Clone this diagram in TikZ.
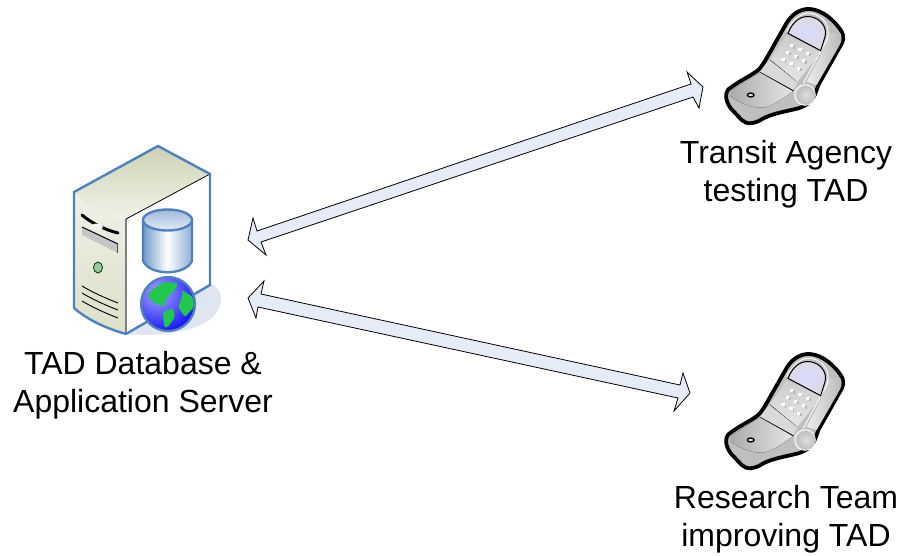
\documentclass[tikz,border=0pt]{standalone}
\usepackage{fontspec}
\setmainfont{Liberation Sans}
\definecolor{srvblue}{HTML}{4F81BD}
\definecolor{arrowfill}{HTML}{E6ECF7}
\definecolor{topa}{HTML}{CDD2B4}
\definecolor{topb}{HTML}{F1F2E8}
\definecolor{fronta}{HTML}{F0F1E6}
\definecolor{frontb}{HTML}{DCDFC8}
\definecolor{shadowc}{HTML}{DFE6F2}
\definecolor{land}{HTML}{22C84E}
\tikzset{
 label text/.style={font=\fontsize{32}{38}\selectfont,align=center,text=black,inner sep=0pt},
 block arrow/.style={draw=black,line width=0.8pt,fill=arrowfill,line join=miter},
 srv line/.style={draw=srvblue,line width=2.4pt,line join=round},
 phone/.pic={
  \begin{scope}[x=0.3333pt,y=-0.3333pt]
   \draw[line width=3.8pt,line join=round,fill=gray!50]
     (55,268) .. controls (90,240) and (130,225) .. (150,205) -- (165,183) -- (228,72)
     .. controls (240,50) and (265,25) .. (300,27) .. controls (340,30) and (375,65) .. (392,90)
     .. controls (405,110) and (400,125) .. (390,140) -- (325,255) -- (318,275)
     .. controls (310,300) and (295,315) .. (265,325) .. controls (225,335) and (190,340) .. (160,355)
     .. controls (135,372) and (110,375) .. (95,360) -- (62,325) .. controls (45,300) and (45,280) .. (55,268) -- cycle;
   \fill[left color=gray!65,right color=gray!20]
     (62,272) -- (150,218) -- (250,272) .. controls (220,295) and (190,315) .. (165,322)
     .. controls (135,328) and (90,310) .. (62,290) -- cycle;
   \draw[line width=1.1pt] (150,215) -- (250,272);
   \fill[gray!30] (150,215) -- (180,178) -- (262,250) -- (250,270) -- cycle;
   \draw[line width=1.1pt] (180,178) -- (258,240);
   \shade[top color=gray!40,bottom color=gray!20]
     (230,105) -- (335,155) -- (262,245) -- (180,178) -- cycle;
   \shade[left color=gray!15,right color=gray!55]
     (340,150) -- (352,100) -- (392,100) .. controls (398,115) and (393,130) .. (385,142) -- (320,255) -- (290,245) -- cycle;
   \draw[white,line width=0.9pt] (230,95) .. controls (250,52) and (280,36) .. (305,40)
     .. controls (340,48) and (368,80) .. (348,125) -- (280,250);
   \shade[inner color=white!85!blue,outer color=blue!12!gray!25,shading=radial,draw=black,line width=1pt]
     (234,100) .. controls (250,60) and (275,47) .. (300,50) .. controls (335,55) and (352,85) .. (345,110)
     -- (332,152) -- cycle;
   \foreach \px/\py in {240/132,265/143,288/155,227/152,252/164,275/177,214/175,238/187,260/200}
     {\fill[white] (\px,\py) rectangle +(13,9);
      \fill[gray!55] (\px+10,\py+3) rectangle +(5,11);}
   \draw[white,line width=0.9pt,fill=gray!35] (285,285) circle (31);
   \shade[inner color=gray!25,outer color=gray!50,shading=radial] (288,286) circle (28);
   \draw[line width=1.3pt,fill=gray!25] (122,285) ellipse (10 and 6);
  \end{scope}}
}
\begin{document}
\begin{tikzpicture}[x=1pt,y=-1pt]
\useasboundingbox (0,0) rectangle (901,555);
% server icon
\fill[shadowc] (205,282) .. controls (225,285) and (225,305) .. (212,318) .. controls (195,332) and (160,337) .. (126,334) -- cycle;
\path[top color=topa,bottom color=topb,draw=none] (74,192) -- (158,146) -- (210,174) -- (126,219) .. controls (105,217) and (85,207) .. (74,192) -- cycle;
\path[top color=fronta,bottom color=frontb] (74,192) .. controls (85,207) and (105,217) .. (126,219) -- (126,334) .. controls (105,328) and (88,320) .. (74,308) -- cycle;
\fill[white] (126,219) -- (210,174) -- (210,285) -- (126,334) -- cycle;
\draw[gray,line width=1.2pt] (126,219) -- (126,334);
\draw[black,line width=0.8pt] (126,219) -- (210,174);
\draw[srv line] (126,334) -- (210,285) -- (210,174) -- (158,146) -- (74,192) -- (74,308) .. controls (88,320) and (105,328) .. (126,334);
\draw[line width=3pt,line cap=round] (82,215) .. controls (90,222) and (105,230) .. (118,233);
\fill[white!90!gray] (97,227) ellipse (6 and 3.5);
\fill[gray!45] (82,227) -- (118,244) -- (118,253) -- (82,235) -- cycle;
\draw[line width=1pt] (82,227) -- (118,244);
\draw[black!70,line width=1pt] (117,244) -- (117,253);
\draw[black!70!green,line width=0.9pt,fill=green!25!gray!60] (98,267.5) ellipse (4.5 and 5.5);
\foreach \yo in {0,7,15}{\draw[line width=0.9pt] (82,286+\yo) .. controls (92,292+\yo) and (105,298+\yo) .. (118,303+\yo);}
% cylinder
\path[left color=srvblue!80,right color=srvblue!65,middle color=white] (143,220) -- (143,261) .. controls (150,276) and (185,276) .. (192,261) -- (192,220) -- cycle;
\draw[srv line] (143,220) -- (143,261) .. controls (150,276) and (185,276) .. (192,261) -- (192,220);
\draw[srv line,top color=srvblue!55,bottom color=srvblue!15] (167.5,220) ellipse (24.5 and 10.5);
% globe
\begin{scope}
\clip (168,304) circle (26.5);
\shade[inner color=blue!35!white,outer color=blue!95!black,shading=radial] (158,293) circle (46);
\fill[land,rounded corners=2pt] (148,293) -- (163,282) -- (178,283) -- (175,290) -- (167,297) -- (163,307) -- (150,300) -- cycle;
\fill[land,rounded corners=2pt] (182,290) -- (193,297) -- (194,307) -- (185,317) -- (178,307) -- (182,297) -- cycle;
\fill[land,rounded corners=2pt] (163,312) -- (173,308) -- (175,317) -- (167,328) -- (164,327) -- cycle;
\end{scope}
\draw[srvblue,line width=2.2pt] (168,304) circle (27);
% arrows
\coordinate (serverA) at (248,240);
\coordinate (phoneA) at (703,87);
\coordinate (serverB) at (248,298);
\coordinate (phoneB) at (690,393);
\draw[block arrow] (serverA) -- (253,218) -- (257,231) -- (691,84) -- (687,72) -- (phoneA) -- (699,108) -- (693,97) -- (261,242) -- (266,255) -- cycle;
\draw[block arrow] (serverB) -- (264,281) -- (261,294) -- (680,385) -- (683,373) -- (phoneB) -- (674,411) -- (678,398) -- (258,307) -- (256,318) -- cycle;
% phones
\pic at (710,0) {phone};
\pic at (710,345) {phone};
% labels
\node[label text] (server) at (143,385) {TAD Database \&\\Application Server};
\node[label text] (agency) at (786,174) {Transit Agency\\testing TAD};
\node[label text] (team) at (786,519) {Research Team\\improving TAD};
\end{tikzpicture}
\end{document}
